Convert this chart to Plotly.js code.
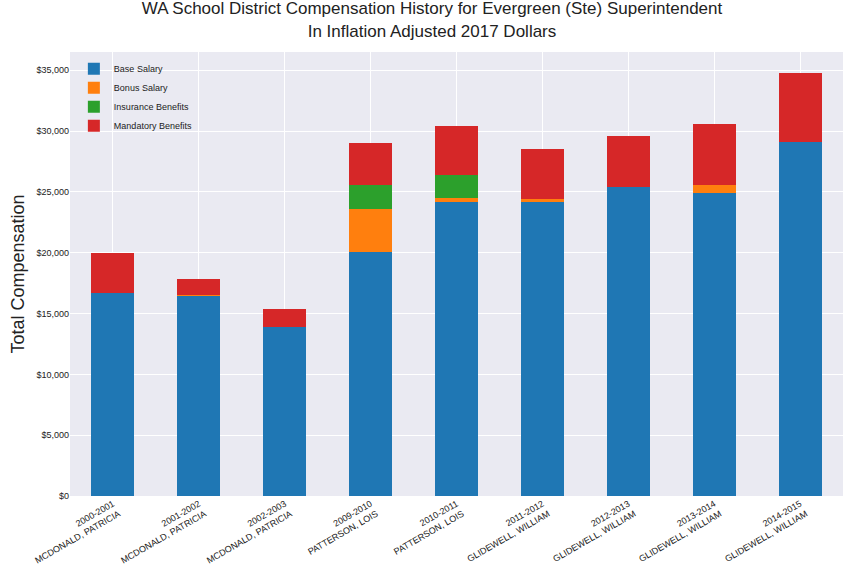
<!DOCTYPE html>
<html>
<head>
<script src="https://cdn.plot.ly/plotly-3.0.1.min.js"></script>
<style>body{margin:0}</style>
</head>
<body>
<div id="chart" style="width:864px;height:576px"></div>
<script>
const categories = ["2000-2001<br>MCDONALD, PATRICIA", "2001-2002<br>MCDONALD, PATRICIA", "2002-2003<br>MCDONALD, PATRICIA",
  "2009-2010<br>PATTERSON, LOIS", "2010-2011<br>PATTERSON, LOIS", "2011-2012<br>GLIDEWELL, WILLIAM",
  "2012-2013<br>GLIDEWELL, WILLIAM", "2013-2014<br>GLIDEWELL, WILLIAM", "2014-2015<br>GLIDEWELL, WILLIAM"];
const baseSalary = [16680, 16500, 13900, 20100, 24200, 24150, 25400, 24900, 29100];
const bonusSalary = [0, 50, 0, 3500, 300, 250, 0, 700, 0];
const insuranceBenefits = [0, 0, 0, 1950, 1900, 0, 0, 0, 0];
const mandatoryBenefits = [3290, 1280, 1470, 3450, 4000, 4100, 4200, 5000, 5650];

const mk = (name, y, color) => ({type: 'bar', name, x: categories, y, marker: {color}, width: 0.5,
  hovertemplate: '%{y:$,.0f}<extra>' + name + '</extra>'});

const data = [
  mk('Base Salary', baseSalary, '#1f77b4'),
  mk('Bonus Salary', bonusSalary, '#ff7f0e'),
  mk('Insurance Benefits', insuranceBenefits, '#2ca02c'),
  mk('Mandatory Benefits', mandatoryBenefits, '#d62728')
];

const layout = {
  barmode: 'stack',
  width: 864, height: 576,
  margin: {l: 70, r: 21, t: 52, b: 80},
  paper_bgcolor: 'white',
  plot_bgcolor: '#EAEAF2',
  font: {family: 'Arial, Liberation Sans, sans-serif', color: '#222'},
  title: {text: 'WA School District Compensation History for Evergreen (Ste) Superintendent<br>In Inflation Adjusted 2017 Dollars',
    font: {size: 17}, x: 0.5, y: 0.975, yanchor: 'top'},
  xaxis: {tickangle: -30, tickfont: {size: 9}, showgrid: true, gridcolor: 'white', ticks: ''},
  yaxis: {title: {text: 'Total Compensation', font: {size: 18}}, range: [0, 36500],
    tickvals: [0, 5000, 10000, 15000, 20000, 25000, 30000, 35000], tickformat: '$,.0f',
    tickfont: {size: 9}, gridcolor: 'white', zeroline: false},
  legend: {x: 0.005, y: 0.995, xanchor: 'left', yanchor: 'top', bgcolor: 'rgba(0,0,0,0)', font: {size: 9}, traceorder: 'normal'},
  showlegend: true
};

Plotly.newPlot('chart', data, layout, {displayModeBar: false});
</script>
</body>
</html>
